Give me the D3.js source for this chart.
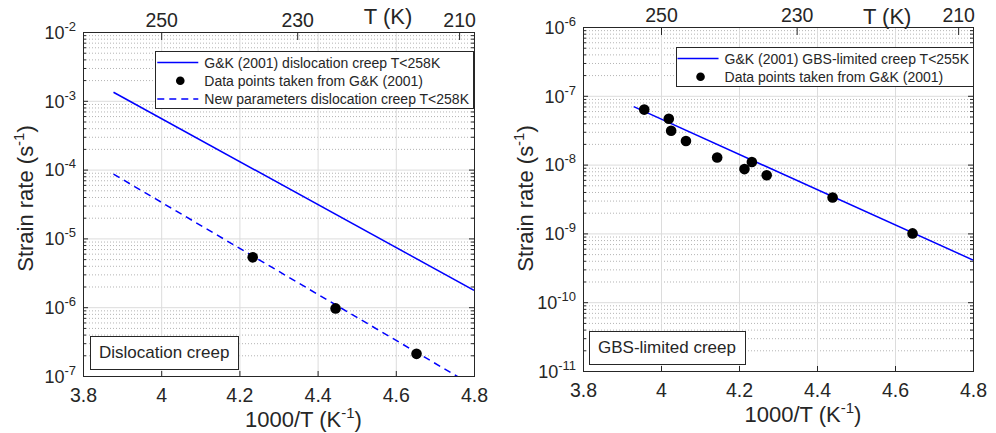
<!DOCTYPE html>
<html>
<head>
<meta charset="utf-8">
<script src="https://cdn.jsdelivr.net/npm/d3@7"></script>
<style>
  body { margin: 0; background: #fff; }
  svg { display: block; font-family: "Liberation Sans", Arial, sans-serif; }
</style>
</head>
<body>
<svg id="chart" width="996" height="433"></svg>
<script>
// axis ticks
const xTickVals = [3.8, 4, 4.2, 4.4, 4.6, 4.8];
const tempTicks = [250, 230, 210];
const disDecades = [-7, -6, -5, -4, -3, -2];
const gbsDecades = [-11, -10, -9, -8, -7, -6];

// dislocation creep panel
const disGkX = [3.878, 4.8];
const disGkY = [1.33e-3, 1.76e-6];
const disNewX = [3.878, 4.8];
const disNewY = [8.6e-5, 7.1e-8];
const disPtsX = [4.234, 4.446, 4.653];
const disPtsY = [5.3e-6, 9.6e-7, 2.1e-7];

// GBS-limited creep panel
const gbsLineX = [3.930, 4.8];
const gbsLineY = [6.95e-8, 4.1e-10];
const gbsPtsX = [3.957, 4.020, 4.026, 4.064, 4.144, 4.214, 4.233, 4.271, 4.440, 4.645];
const gbsPtsY = [6.3e-8, 4.65e-8, 3.1e-8, 2.2e-8, 1.27e-8, 8.6e-9, 1.09e-8, 7.0e-9, 3.33e-9, 1.0e-9];

const TXT = "#262626";
const BLUE = "#0000ff";
const svg = d3.select("#chart");

function minorVals(dec) {
  const out = [];
  dec.slice(0, -1).forEach(k => { for (let m = 2; m <= 9; m++) out.push(m * Math.pow(10, k)); });
  return out;
}

function drawPanel(p) {
  const w = p.right - p.left, h = p.bottom - p.top;
  const x = d3.scaleLinear().domain([3.8, 4.8]).range([p.left, p.right]);
  const y = d3.scaleLog()
    .domain([Math.pow(10, p.decades[0]), Math.pow(10, p.decades[p.decades.length - 1])])
    .range([p.bottom, p.top]);
  const majors = p.decades.map(d => Math.pow(10, d));
  const minors = minorVals(p.decades);
  const g = svg.append("g");

  g.append("clipPath").attr("id", p.id + "clip")
    .append("rect").attr("x", p.left).attr("y", p.top).attr("width", w).attr("height", h);

  // grids
  g.append("g").attr("transform", `translate(${p.left},0)`)
    .call(d3.axisLeft(y).tickValues(minors).tickSize(-w).tickFormat(""))
    .call(s => {
      s.select(".domain").remove();
      s.selectAll("line").attr("stroke", "#b4b4b4").attr("stroke-dasharray", "1,2");
    });
  g.append("g").attr("transform", `translate(${p.left},0)`)
    .call(d3.axisLeft(y).tickValues(majors).tickSize(-w).tickFormat(""))
    .call(s => { s.select(".domain").remove(); s.selectAll("line").attr("stroke", "#dcdcdc"); });
  g.append("g").attr("transform", `translate(0,${p.bottom})`)
    .call(d3.axisBottom(x).tickValues(xTickVals).tickSize(-h).tickFormat(""))
    .call(s => { s.select(".domain").remove(); s.selectAll("line").attr("stroke", "#dcdcdc"); });

  // bottom axis
  g.append("g").attr("transform", `translate(0,${p.bottom})`)
    .call(d3.axisBottom(x).tickValues(xTickVals).tickSize(-5).tickPadding(12.5).tickFormat(d3.format("")))
    .call(s => {
      s.select(".domain").remove();
      s.selectAll("line").attr("stroke", TXT);
      s.selectAll("text").attr("fill", TXT).attr("font-size", 19.5).attr("font-family", null);
    });

  // top temperature axis
  g.append("g").attr("transform", `translate(0,${p.top})`)
    .call(d3.axisTop(x).tickValues(tempTicks.map(t => 1000 / t)).tickSize(-8).tickPadding(5.5)
      .tickFormat(v => Math.round(1000 / v)))
    .call(s => {
      s.select(".domain").remove();
      s.selectAll("line").attr("stroke", TXT);
      s.selectAll("text").attr("fill", TXT).attr("font-size", 19.5).attr("font-family", null);
    });
  g.append("text").attr("x", x(4.58)).attr("y", p.top + p.tkDy).attr("text-anchor", "middle")
    .attr("font-size", 22).attr("fill", TXT).text("T (K)");

  // left axis
  g.append("g").attr("transform", `translate(${p.left},0)`)
    .call(d3.axisLeft(y).tickValues(minors).tickSize(-3).tickFormat(""))
    .call(s => { s.select(".domain").remove(); s.selectAll("line").attr("stroke", TXT); });
  g.append("g").attr("transform", `translate(${p.left},0)`)
    .call(d3.axisLeft(y).tickValues(majors).tickSize(-5).tickPadding(7).tickFormat(""))
    .call(s => {
      s.select(".domain").remove();
      s.selectAll("line").attr("stroke", TXT);
      s.selectAll("text").attr("fill", TXT).attr("font-family", null).attr("dy", null)
        .each(function(v) {
          const t = d3.select(this);
          t.attr("y", 6.3);
          t.append("tspan").attr("font-size", 18).text("10");
          t.append("tspan").attr("font-size", 13).attr("dy", -8).text(Math.round(Math.log10(v)));
        });
    });
  // right axis
  g.append("g").attr("transform", `translate(${p.right},0)`)
    .call(d3.axisRight(y).tickValues(minors).tickSize(-3).tickFormat(""))
    .call(s => { s.select(".domain").remove(); s.selectAll("line").attr("stroke", TXT); });
  g.append("g").attr("transform", `translate(${p.right},0)`)
    .call(d3.axisRight(y).tickValues(majors).tickSize(-5).tickFormat(""))
    .call(s => { s.select(".domain").remove(); s.selectAll("line").attr("stroke", TXT); });

  // box
  g.append("rect").attr("x", p.left + 0.5).attr("y", p.top + 0.5).attr("width", w).attr("height", h)
    .attr("fill", "none").attr("stroke", TXT).attr("stroke-width", 1);

  // axis labels
  const xl = g.append("text").attr("x", (p.left + p.right) / 2 + 25).attr("y", p.bottom + p.xlDy)
    .attr("text-anchor", "middle").attr("font-size", 22).attr("fill", TXT);
  xl.append("tspan").text("1000/T (K");
  xl.append("tspan").attr("font-size", 15).attr("dy", -9).text("-1");
  xl.append("tspan").attr("dy", 9).text(")");

  const yl = g.append("text")
    .attr("transform", `translate(${p.left - 50},${p.ylMid}) rotate(-90)`)
    .attr("text-anchor", "middle").attr("font-size", 22).attr("fill", TXT);
  yl.append("tspan").text("Strain rate (s");
  yl.append("tspan").attr("font-size", 15).attr("dy", -9).text("-1");
  yl.append("tspan").attr("dy", 9).text(")");

  // series
  const line = d3.line().x(d => x(d[0])).y(d => y(d[1]));
  const plot = g.append("g").attr("clip-path", `url(#${p.id}clip)`);
  p.lines.forEach(s => {
    plot.append("path").datum(d3.zip(s.x, s.y)).attr("d", line)
      .attr("fill", "none").attr("stroke", BLUE).attr("stroke-width", 1.5)
      .attr("stroke-dasharray", s.dash ? "7,5" : null);
  });
  g.append("g").selectAll("circle").data(d3.zip(p.ptsX, p.ptsY)).join("circle")
    .attr("cx", d => x(d[0])).attr("cy", d => y(d[1])).attr("r", 5.3).attr("fill", "#000");

  // legend
  const lg = g.append("g");
  const lgTexts = lg.selectAll("text").data(p.legend).join("text")
    .attr("font-size", 14).attr("fill", TXT).text(d => d.label);
  let maxLen = 0;
  lgTexts.each(function() { maxLen = Math.max(maxLen, this.getComputedTextLength()); });
  const bw = 49 + maxLen + 4, bh = p.legend.length * 18.3 + 2;
  const bx = p.right - p.lgRight - bw, by = p.top + p.lgTop;
  lg.insert("rect", "text").attr("x", Math.round(bx) + 0.5).attr("y", Math.round(by) + 0.5)
    .attr("width", Math.round(bw)).attr("height", Math.round(bh))
    .attr("fill", "#fff").attr("stroke", TXT).attr("stroke-width", 1);
  p.legend.forEach((d, i) => {
    const ry = by + 11.5 + i * 18.3;
    if (d.type === "dot") {
      lg.append("circle").attr("cx", bx + 25).attr("cy", ry).attr("r", 4.3).attr("fill", "#000");
    } else {
      lg.append("line").attr("x1", bx + 2).attr("x2", bx + 43).attr("y1", ry).attr("y2", ry)
        .attr("stroke", BLUE).attr("stroke-width", 1.5)
        .attr("stroke-dasharray", d.type === "dash" ? "7,5" : null);
    }
  });
  lgTexts.attr("x", bx + 49).attr("y", (d, i) => by + 11.5 + i * 18.3 + 5);

  // annotation box
  const ab = g.append("g");
  const at = ab.append("text").attr("font-size", 17).attr("fill", TXT).text(p.note);
  const tl = at.node().getComputedTextLength();
  const ax = p.left + p.noteDx, ay = p.bottom - 40;
  ab.insert("rect", "text").attr("x", ax + 0.5).attr("y", ay + 0.5)
    .attr("width", Math.round(tl + 18)).attr("height", 33)
    .attr("fill", "#fff").attr("stroke", TXT).attr("stroke-width", 1);
  at.attr("x", ax + 9).attr("y", ay + 21.5);
}

drawPanel({
  id: "dis", left: 83, right: 474, top: 32, bottom: 376, decades: disDecades,
  tkDy: -8, xlDy: 50.5, ylMid: 198.5, lgTop: 19, lgRight: 1, noteDx: 7,
  lines: [{ x: disGkX, y: disGkY }, { x: disNewX, y: disNewY, dash: true }],
  ptsX: disPtsX, ptsY: disPtsY,
  legend: [
    { label: "G&K (2001) dislocation creep T<258K", type: "line" },
    { label: "Data points taken from G&K (2001)", type: "dot" },
    { label: "New parameters dislocation creep T<258K", type: "dash" }
  ],
  note: "Dislocation creep"
});

drawPanel({
  id: "gbs", left: 583, right: 973, top: 27, bottom: 371, decades: gbsDecades,
  tkDy: -3, xlDy: 50.5, ylMid: 198.5, lgTop: 20, lgRight: 0, noteDx: 6,
  lines: [{ x: gbsLineX, y: gbsLineY }],
  ptsX: gbsPtsX, ptsY: gbsPtsY,
  legend: [
    { label: "G&K (2001) GBS-limited creep T<255K", type: "line" },
    { label: "Data points taken from G&K (2001)", type: "dot" }
  ],
  note: "GBS-limited creep"
});
</script>
</body>
</html>
